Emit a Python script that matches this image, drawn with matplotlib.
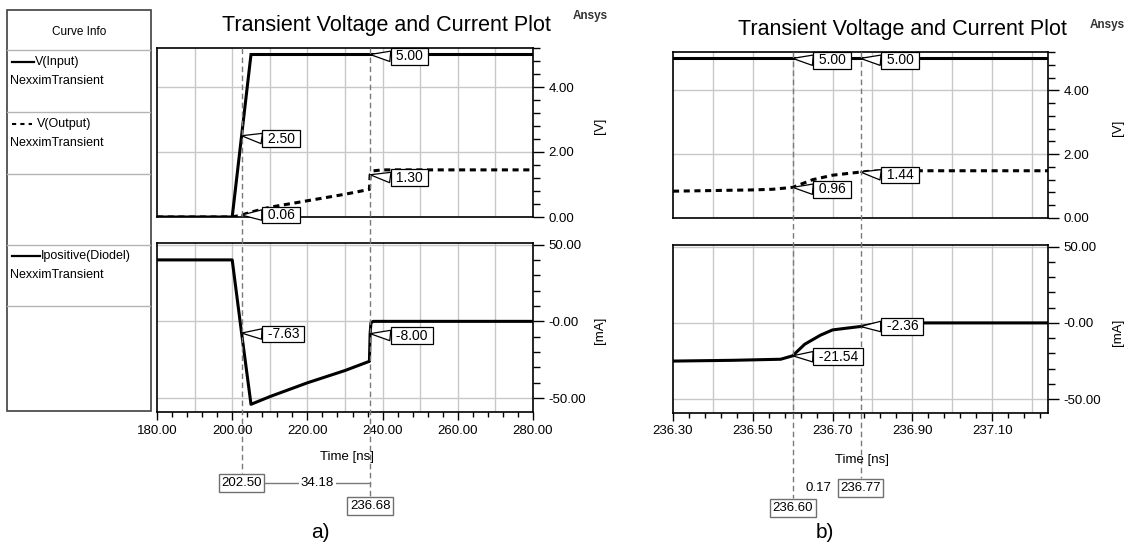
import numpy as np
import matplotlib
matplotlib.use('Agg')
import matplotlib.pyplot as plt
from matplotlib.lines import Line2D
from matplotlib.patches import Rectangle
from matplotlib.ticker import FixedLocator, FuncFormatter
from matplotlib.transforms import blended_transform_factory

plt.rcParams['font.family'] = ['Liberation Sans', 'DejaVu Sans']

W, H = 1139, 550

# ---- a) full sweep, 180..280 ns ----
a_t_vin = [180, 200, 205, 280]
a_vin = [0, 0, 5.0, 5.0]
a_t_vout = [180, 200, 202.5, 205, 210, 215, 220, 225, 230, 236.5, 236.68, 237.5, 240, 280]
a_vout = [0, 0, 0.06, 0.15, 0.30, 0.40, 0.50, 0.60, 0.70, 0.85, 1.30, 1.42, 1.45, 1.45]
a_t_id = [180, 200, 202.5, 205, 210, 220, 230, 236.5, 236.68, 236.9, 237.5, 280]
a_id = [40, 40, -7.63, -54, -49, -40, -32, -26, -8.0, -1.0, 0, 0]
a_cursors = [202.50, 236.68]
a_delta = '34.18'
a_vmark_t = [202.50, 202.50, 236.68, 236.68]
a_vmark_v = [2.50, 0.06, 5.00, 1.30]
a_imark_t = [202.50, 236.68]
a_imark_v = [-7.63, -8.00]

# ---- b) zoom, 236.30..237.24 ns ----
b_t_vin = [236.30, 237.24]
b_vin = [5.0, 5.0]
b_t_vout = [236.30, 236.40, 236.50, 236.55, 236.60, 236.65, 236.70, 236.77, 236.80, 236.85, 237.24]
b_vout = [0.84, 0.86, 0.88, 0.90, 0.96, 1.20, 1.34, 1.44, 1.47, 1.48, 1.48]
b_t_id = [236.30, 236.45, 236.57, 236.60, 236.63, 236.67, 236.70, 236.74, 236.77, 236.80, 236.85, 237.24]
b_id = [-25, -24.5, -23.8, -21.54, -14, -8.0, -4.6, -3.3, -2.36, -1.0, 0, 0]
b_cursors = [236.60, 236.77]
b_delta = '0.17'
b_vmark_t = [236.60, 236.77, 236.60, 236.77]
b_vmark_v = [5.00, 5.00, 0.96, 1.44]
b_imark_t = [236.60, 236.77]
b_imark_v = [-21.54, -2.36]

GRID = '#c8c8c8'
CURSOR = '#7a7a7a'

fig = plt.figure(figsize=(W / 100, H / 100), dpi=100)


def rect(x0, y0, x1, y1):
    return [x0 / W, 1 - y1 / H, (x1 - x0) / W, (y1 - y0) / H]


def fy(y):
    return 1 - y / H


def frame(ax):
    for s in ax.spines.values():
        s.set_linewidth(1.2)
        s.set_color('black')
    ax.yaxis.tick_right()
    ax.tick_params(axis='y', which='major', length=8, width=1, pad=3, labelsize=9.5)
    ax.tick_params(axis='y', which='minor', length=5, width=1)
    ax.tick_params(axis='y', left=False)


def callout(ax, x, y, val, dx=22, dy=0):
    ax.annotate(' %.2f ' % val, xy=(x, y), xytext=(dx, dy), textcoords='offset pixels',
                ha='left', va='center', fontsize=10, zorder=6, annotation_clip=False,
                bbox=dict(boxstyle='square,pad=0.1', fc='white', ec='black', lw=0.9),
                arrowprops=dict(arrowstyle='wedge,tail_width=0.75,shrink_factor=0.5',
                                fc='white', ec='black', lw=0.9, relpos=(0, 0.5),
                                shrinkA=0, shrinkB=0))


def panel(top_px, bot_px, xlim, xmaj, xmin, xgrid, data, cursors, delta, boxes,
          vmarks, imarks, vdy, idy, title_xy, ansys_xy, lab_x, time_xy, tag_xy, delta_line):
    axv = fig.add_axes(rect(*top_px))
    axi = fig.add_axes(rect(*bot_px))
    t_vin, vin, t_vout, vout, t_id, i_d = data

    for ax in (axv, axi):
        frame(ax)
        ax.set_xlim(*xlim)
        for g in xgrid:
            ax.axvline(g, color=GRID, lw=1, zorder=0)
        ax.grid(True, axis='y', which='major', color=GRID, lw=1, zorder=0)
        ax.set_axisbelow(True)

    axv.plot(t_vin, vin, color='black', lw=2.2, solid_joinstyle='miter', zorder=3)
    axv.plot(t_vout, vout, color='black', lw=2.2, linestyle=(0, (2, 1.5)), zorder=3)
    axv.set_ylim(0, 5.2)
    axv.yaxis.set_major_locator(FixedLocator([0, 2, 4]))
    axv.yaxis.set_minor_locator(FixedLocator(np.arange(0, 5.21, 0.4)))
    axv.yaxis.set_major_formatter(FuncFormatter(lambda v, p: '%.2f' % v))
    axv.tick_params(axis='x', which='both', bottom=False, labelbottom=False)

    axi.plot(t_id, i_d, color='black', lw=2.2, zorder=3)
    axi.set_ylim(-59, 51)
    axi.yaxis.set_major_locator(FixedLocator([-50, 0, 50]))
    axi.yaxis.set_minor_locator(FixedLocator(np.arange(-50, 51, 10)))
    axi.yaxis.set_major_formatter(FuncFormatter(lambda v, p: '-0.00' if v == 0 else '%.2f' % v))
    axi.xaxis.set_major_locator(FixedLocator(xmaj))
    axi.xaxis.set_minor_locator(FixedLocator(xmin))
    axi.xaxis.set_major_formatter(FuncFormatter(lambda v, p: '%.2f' % v))
    axi.tick_params(axis='x', which='major', length=6, width=1, pad=3, labelsize=9.5)
    axi.tick_params(axis='x', which='minor', length=3.5, width=1)

    for (t, v), d in zip(vmarks, vdy):
        callout(axv, t, v, v, dy=d)
    for (t, v), d in zip(imarks, idy):
        callout(axi, t, v, v, dy=d)

    # cursors running from the top plot down to the readout boxes
    tr = blended_transform_factory(axi.transData, fig.transFigure)
    for c, (by, bend) in zip(cursors, boxes):
        axi.add_line(Line2D([c, c], [fy(top_px[1]), fy(bend)], transform=tr, clip_on=False,
                            color=CURSOR, lw=1, linestyle=(0, (4, 2.5)), zorder=4))
        axi.text(c, fy(by), '%.2f' % c, transform=tr, ha='center', va='center',
                 fontsize=9.5, zorder=7,
                 bbox=dict(boxstyle='square,pad=0.2', fc='white', ec='#707070', lw=1))
    if delta_line:
        axi.add_line(Line2D(cursors, [fy(boxes[0][0])] * 2, transform=tr, clip_on=False,
                            color=CURSOR, lw=1, zorder=3))
    axi.text(delta[1], fy(delta[2]), delta[0], transform=tr, ha='center', va='center',
             fontsize=9.5, zorder=6,
             bbox=dict(boxstyle='square,pad=0.15', fc='white', ec='none'))

    fig.text(title_xy[0] / W, fy(title_xy[1]), 'Transient Voltage and Current Plot',
             ha='center', va='center', fontsize=15.5)
    fig.text(ansys_xy[0] / W, fy(ansys_xy[1]), 'Ansys', ha='left', va='center',
             fontsize=8.5, fontweight='bold', color='#333333')
    fig.text(lab_x / W, fy((top_px[1] + top_px[3]) / 2 - 7), '[V]', rotation=90,
             ha='center', va='center', fontsize=9.5)
    fig.text(lab_x / W, fy((bot_px[1] + bot_px[3]) / 2 + 3), '[mA]', rotation=90,
             ha='center', va='center', fontsize=9.5)
    fig.text(time_xy[0] / W, fy(time_xy[1]), 'Time [ns]', ha='center', va='center',
             fontsize=9.5)
    fig.text(tag_xy[0] / W, fy(tag_xy[1]), tag_xy[2], ha='center', va='center',
             fontsize=15)


panel((157, 48, 533, 217), (157, 243, 533, 412), (180, 280),
      np.arange(180, 281, 20), np.arange(180, 281, 4), np.arange(190, 280, 10),
      (a_t_vin, a_vin, a_t_vout, a_vout, a_t_id, a_id),
      a_cursors, (a_delta, 222.6, 483), [(483, 473), (506, 496)],
      list(zip(a_vmark_t, a_vmark_v)), list(zip(a_imark_t, a_imark_v)),
      [-3, 0, -2, -3], [-1, -2],
      (386, 25), (573, 16), 600, (347, 457), (320, 533, 'a)'), True)

panel((673, 52, 1048, 218), (673, 245, 1048, 413), (236.30, 237.24),
      np.arange(236.30, 237.11, 0.2), np.arange(236.30, 237.24, 0.04),
      np.arange(236.40, 237.21, 0.1),
      (b_t_vin, b_vin, b_t_vout, b_vout, b_t_id, b_id),
      b_cursors, (b_delta, 236.665, 488), [(508, 498), (488, 478)],
      list(zip(b_vmark_t, b_vmark_v)), list(zip(b_imark_t, b_imark_v)),
      [-2, -2, -2, -3], [-1, 0],
      (902, 30), (1090, 25), 1118, (862, 460), (825, 533, 'b)'), False)

# ---- Curve Info panel ----
leg = fig.add_axes(rect(7, 10, 151, 411))
leg.set_xlim(7, 151)
leg.set_ylim(411, 10)
leg.axis('off')
leg.add_patch(Rectangle((7, 10), 144, 401, fc='white', ec='#404040', lw=1.2, clip_on=False))
for y in [50, 112, 174, 245, 306]:
    leg.plot([7, 151], [y, y], color='#b4b4b4', lw=1)
leg.text(79, 32, 'Curve Info', ha='center', va='center', fontsize=8.5)
leg.plot([12, 34], [62, 62], color='black', lw=1.6)
leg.text(35, 62, 'V(Input)', ha='left', va='center', fontsize=9)
leg.text(10, 81, 'NexximTransient', ha='left', va='center', fontsize=9)
leg.plot([12, 32], [124, 124], color='black', lw=1.5, linestyle=(0, (2, 2)))
leg.text(37, 124, 'V(Output)', ha='left', va='center', fontsize=9)
leg.text(10, 143, 'NexximTransient', ha='left', va='center', fontsize=9)
leg.plot([12, 40], [256, 256], color='black', lw=1.6)
leg.text(41, 256, 'Ipositive(Diodel)', ha='left', va='center', fontsize=9)
leg.text(10, 275, 'NexximTransient', ha='left', va='center', fontsize=9)

fig.savefig('out.png', dpi=100)
